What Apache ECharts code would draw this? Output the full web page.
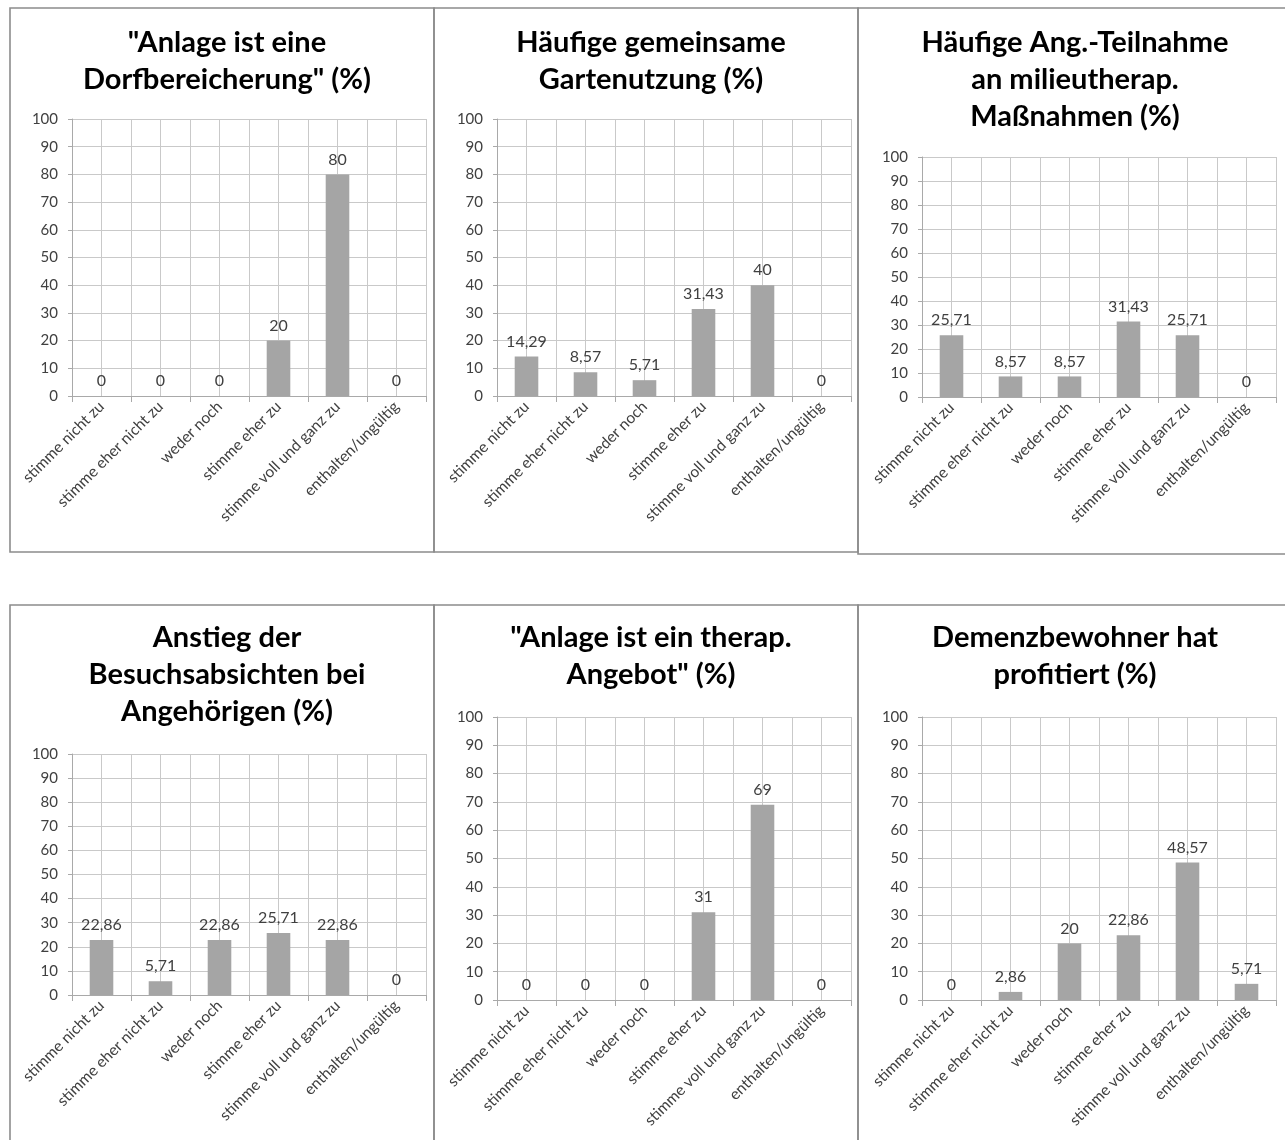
<!DOCTYPE html>
<html>
<head>
<meta charset="utf-8">
<script src="https://cdn.jsdelivr.net/npm/echarts@6/dist/echarts.min.js"></script>
<style>
  html, body { margin: 0; padding: 0; background: #fff; }
  #chart { width: 1285px; height: 1140px; }
</style>
</head>
<body>
<div id="chart"></div>
<script>
// Answer categories shared by all six survey questions
const categories = [
  'stimme nicht zu',
  'stimme eher nicht zu',
  'weder noch',
  'stimme eher zu',
  'stimme voll und ganz zu',
  'enthalten/ungültig'
];

// Question titles
const titles = [
  '"Anlage ist eine\nDorfbereicherung" (%)',
  'Häufige gemeinsame\nGartenutzung (%)',
  'Häufige Ang.-Teilnahme\nan milieutherap.\nMaßnahmen (%)',
  'Anstieg der\nBesuchsabsichten bei\nAngehörigen (%)',
  '"Anlage ist ein therap.\nAngebot" (%)',
  'Demenzbewohner hat\nprofitiert (%)'
];

// Shares of answers in percent
const dorfbereicherung   = [0, 0, 0, 20, 80, 0];
const gartennutzung      = [14.29, 8.57, 5.71, 31.43, 40, 0];
const milieutherapie     = [25.71, 8.57, 8.57, 31.43, 25.71, 0];
const besuchsabsichten   = [22.86, 5.71, 22.86, 25.71, 22.86, 0];
const therapAngebot      = [0, 0, 0, 31, 69, 0];
const bewohnerProfitiert = [0, 2.86, 20, 22.86, 48.57, 5.71];

const seriesData = [
  dorfbereicherung, gartennutzung, milieutherapie,
  besuchsabsichten, therapAngebot, bewohnerProfitiert
];

// Value axis: 0..100 in steps of 10
const yMin = 0, yMax = 100, yStep = 10;

// Panel frames, plot areas and title positions (pixels)
const layout = [
  { box: [10, 8, 424, 544],   grid: [72, 119, 354, 277],  titleTop: 24 },
  { box: [434, 8, 424, 544],  grid: [497, 119, 354, 277], titleTop: 24 },
  { box: [858, 8, 440, 546],  grid: [922, 157, 354, 240], titleTop: 24 },
  { box: [10, 605, 424, 560], grid: [72, 754, 354, 241],  titleTop: 619 },
  { box: [434, 605, 424, 560],grid: [497, 717, 354, 283], titleTop: 619 },
  { box: [858, 605, 440, 560],grid: [922, 717, 354, 283], titleTop: 619 }
];

const FONT = 'Lato, "Open Sans", sans-serif';
const gridColor = '#c9c9c9';
const axisColor = '#a9a9a9';
const textColor = '#404040';
const barColor = '#a5a5a5';

const fmt = v => String(v).replace('.', ',');

const grids = [], xAxes = [], yAxes = [], series = [], graphics = [];

layout.forEach((p, i) => {
  const [bx, by, bw, bh] = p.box;
  const [gl, gt, gw, gh] = p.grid;

  graphics.push({
    type: 'rect', z: -10, silent: true,
    shape: { x: bx, y: by, width: bw, height: bh },
    style: { fill: 'none', stroke: '#8c8c8c', lineWidth: 1.6 }
  });
  graphics.push({
    type: 'text', silent: true,
    style: {
      text: titles[i], x: bx + 217, y: p.titleTop,
      align: 'center', verticalAlign: 'top',
      fontFamily: FONT, fontWeight: 'bold', fontSize: 29, lineHeight: 37,
      fill: '#000'
    }
  });

  grids.push({ left: gl, top: gt, width: gw, height: gh, containLabel: false });

  // category axis with labels and boundary ticks
  xAxes.push({
    type: 'category', gridIndex: i, data: categories, boundaryGap: true,
    axisLine: { show: true, lineStyle: { color: axisColor, width: 1 } },
    axisTick: { show: true, length: 6, lineStyle: { color: axisColor } },
    axisLabel: {
      interval: 0, rotate: 45, margin: 8,
      fontFamily: FONT, fontSize: 15.5, color: textColor
    },
    splitLine: { show: false }
  });
  // helper axis providing vertical gridlines at half-category spacing
  xAxes.push({
    type: 'value', gridIndex: i, position: 'top',
    min: 0, max: categories.length * 2, interval: 1,
    axisLine: { show: false }, axisTick: { show: false }, axisLabel: { show: false },
    splitLine: { show: true, lineStyle: { color: gridColor, width: 1 } }
  });

  yAxes.push({
    type: 'value', gridIndex: i, min: yMin, max: yMax, interval: yStep,
    axisLine: { show: true, lineStyle: { color: axisColor } },
    axisTick: { show: true, length: 4, lineStyle: { color: axisColor } },
    axisLabel: { margin: 14, fontFamily: FONT, fontSize: 15, color: textColor },
    splitLine: { show: true, lineStyle: { color: gridColor, width: 1 } }
  });

  series.push({
    type: 'bar', xAxisIndex: i * 2, yAxisIndex: i,
    data: seriesData[i], barWidth: '40%',
    itemStyle: { color: barColor },
    label: {
      show: true, position: 'top', distance: 7,
      fontFamily: FONT, fontSize: 16, color: textColor,
      formatter: params => fmt(params.value)
    }
  });
});

const chart = echarts.init(document.getElementById('chart'), null, { renderer: 'canvas' });
chart.setOption({
  animation: false,
  backgroundColor: '#fff',
  grid: grids,
  xAxis: xAxes,
  yAxis: yAxes,
  series: series,
  graphic: graphics
});
</script>
</body>
</html>
